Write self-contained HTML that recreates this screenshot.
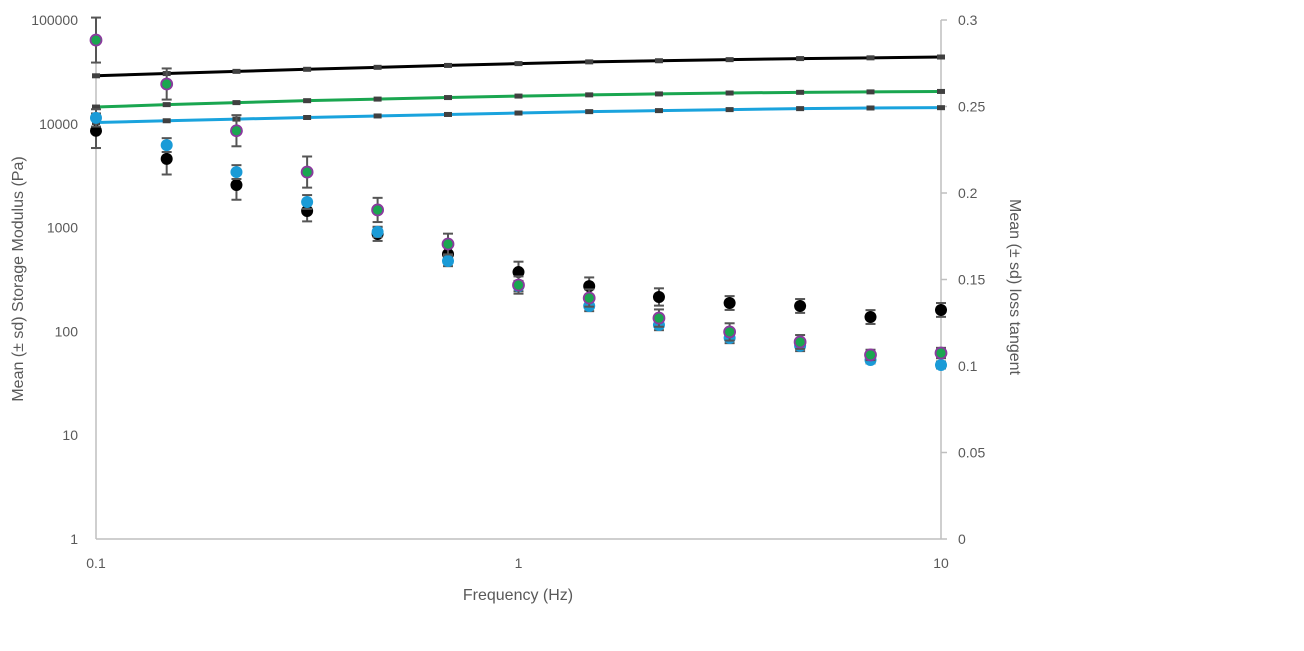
<!DOCTYPE html>
<html><head><meta charset="utf-8"><style>
body{margin:0;background:#fff;}
svg text{font-family:"Liberation Sans",sans-serif;fill:#595959;}
</style></head><body>
<svg id="chart" width="1304" height="646" viewBox="0 0 1304 646" xmlns="http://www.w3.org/2000/svg">
<g id="axes"></g><g id="series"></g>
<text x="518" y="600" font-size="16" text-anchor="middle">Frequency (Hz)</text>
<text transform="translate(23,279) rotate(-90)" font-size="16" text-anchor="middle">Mean (± sd) Storage Modulus (Pa)</text>
<text transform="translate(1010,287) rotate(90)" font-size="16" text-anchor="middle">Mean (± sd) loss tangent</text>
</svg>
<script>
const freqs=[0.1,0.147,0.215,0.316,0.464,0.681,1,1.47,2.15,3.16,4.64,6.81,10];
const gBlack=[29000,30500,32000,33500,35000,36500,38000,39500,40500,41500,42500,43200,44000];
const gGreen=[14500,15300,16000,16700,17300,17900,18500,19000,19400,19800,20100,20300,20500];
const gBlue=[10300,10700,11100,11500,11900,12300,12700,13100,13400,13700,14000,14200,14300];
const tBlack=[0.236,0.2197,0.2046,0.1896,0.1763,0.1647,0.1543,0.1462,0.1399,0.1364,0.1347,0.1283,0.1324];
const tGreen=[0.2884,0.263,0.236,0.2121,0.1902,0.1705,0.1468,0.1393,0.1277,0.1197,0.1139,0.1064,0.1075];
const tBlue=[0.2434,0.2277,0.2121,0.1948,0.1775,0.1607,0.1462,0.1347,0.1237,0.1162,0.1116,0.1035,0.1006];
const eBlack=[0.010,0.009,0.0085,0.006,0.004,0.005,0.006,0.005,0.005,0.004,0.004,0.004,0.004];
const eGreen=[0.013,0.009,0.009,0.009,0.007,0.006,0.005,0.005,0.005,0.005,0.004,0.003,0.003];
const eBlue=[0.005,0.004,0.004,0.004,0.003,0.003,0.003,0.003,0.003,0.003,0.003,0.002,0.002];
const leftTicks=[1,10,100,1000,10000,100000];
const leftLabels=["1","10","100","1000","10000","100000"];
const rightTicks=[0,0.05,0.1,0.15,0.2,0.25,0.3];
const xTicks=[0.1,1,10];
const xLabels=["0.1","1","10"];
const X0=96,X1=941,Y0=539,Y1=20;
const xs=f=>X0+(Math.log10(f)+1)/2*(X1-X0);
const yl=v=>Y0-Math.log10(v)/5*(Y0-Y1);
const yr=v=>Y0-v/0.3*(Y0-Y1);
const NS="http://www.w3.org/2000/svg";
function mk(parent,tag,attrs){const e=document.createElementNS(NS,tag);for(const k in attrs)e.setAttribute(k,attrs[k]);parent.appendChild(e);return e;}
const ax=document.getElementById('axes'),se=document.getElementById('series');
let l;
l=mk(ax,'line',{x1:X0,y1:Y1,x2:X0,y2:Y0,stroke:'#bfbfbf','stroke-width':1.5});

l=mk(ax,'line',{x1:X0,y1:Y0,x2:X1,y2:Y0,stroke:'#bfbfbf','stroke-width':1.5});

l=mk(ax,'line',{x1:X1,y1:Y1,x2:X1,y2:Y0,stroke:'#bfbfbf','stroke-width':1.5});

leftTicks.forEach((v,i)=>{const t=mk(ax,'text',{x:78,y:yl(v)+5,'font-size':14,'text-anchor':'end'});t.textContent=leftLabels[i];
});
rightTicks.forEach(v=>{mk(ax,'line',{x1:X1,x2:X1+6,y1:yr(v),y2:yr(v),stroke:'#bfbfbf','stroke-width':1.5});
const t=mk(ax,'text',{x:958,y:yr(v)+5,'font-size':14});t.textContent=String(v);
});
xTicks.forEach((v,i)=>{const t=mk(ax,'text',{x:xs(v),y:568,'font-size':14,'text-anchor':'middle'});t.textContent=xLabels[i];
});
function gline(vals,color,name){
 const p=mk(se,'polyline',{points:vals.map((v,i)=>xs(freqs[i])+','+yl(v)).join(' '),fill:'none',stroke:color,'stroke-width':3});
 
 vals.forEach((v,i)=>{const r=mk(se,'rect',{x:xs(freqs[i])-4,y:yl(v)-2.5,width:8,height:5,fill:'#404040'});
 });
}
function scat(vals,errs,fill,stroke,name){
 vals.forEach((v,i)=>{const x=xs(freqs[i]),a=yr(v+errs[i]),b=yr(v-errs[i]);
 const g=mk(se,'g',{stroke:'#555','stroke-width':2});
 mk(g,'line',{x1:x,x2:x,y1:a,y2:b});mk(g,'line',{x1:x-5,x2:x+5,y1:a,y2:a});mk(g,'line',{x1:x-5,x2:x+5,y1:b,y2:b});
 });
 vals.forEach((v,i)=>{const c=mk(se,'circle',{cx:xs(freqs[i]),cy:yr(v),r:stroke?5.5:6,fill:fill,stroke:stroke||'none','stroke-width':1.8});
 });
}
gline(gBlack,'#000','storage-modulus-black');
gline(gGreen,'#1aa650','storage-modulus-green');
gline(gBlue,'#1aa3dd','storage-modulus-blue');
scat(tBlack,eBlack,'#000',null,'loss-tangent-black');
scat(tBlue,eBlue,'#1a9bd7',null,'loss-tangent-blue');
scat(tGreen,eGreen,'#1aa650','#8b3a9e','loss-tangent-green');
</script>
</body></html>
